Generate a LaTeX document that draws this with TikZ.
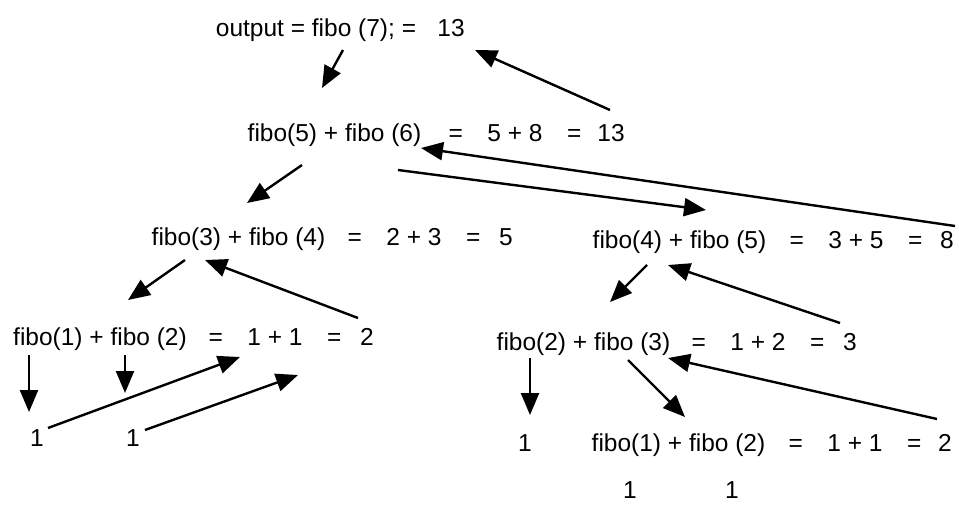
\documentclass[tikz,border=0pt]{standalone}
\usepackage{fontspec}
\setmainfont{Liberation Sans}
\usetikzlibrary{arrows.meta,calc}
\tikzset{
  lbl/.style={inner sep=0pt, anchor=base, font=\fontsize{24.5}{28}\selectfont},
  arr/.style={-{Triangle[length=22pt,width=18pt]}, line width=2.4pt},
}
\newcommand{\gapsum}[1]{=\hspace{1em}#1\hspace{1em}=}

\begin{document}
\begin{tikzpicture}[x=1pt, y=-1pt]
    \path[use as bounding box, fill=white] (0,0) rectangle (959,504);
    % top line
    \node[lbl] (out) at (316,36) {output = fibo (7); =};
    \node[lbl] (top13) at (451,36) {13};
    % fibo(7)
    \node[lbl] (f56) at (334.5,141) {fibo(5) + fibo (6)};
    \node[lbl] (s58) at (515,141) {\gapsum{5 + 8}};
    \node[lbl] (v13) at (611,141) {13};
    % fibo(5) and fibo(6)
    \node[lbl] (f34) at (238.5,245) {fibo(3) + fibo (4)};
    \node[lbl] (s23) at (414,245) {\gapsum{2 + 3}};
    \node[lbl] (v5) at (506,245) {5};
    \node[lbl] (f45) at (679.5,248) {fibo(4) + fibo (5)};
    \node[lbl] (s35) at (856,248) {\gapsum{3 + 5}};
    \node[lbl] (v8) at (947,248) {8};
    % fibo(3) and fibo(4)
    \node[lbl] (f12a) at (100,345) {fibo(1) + fibo (2)};
    \node[lbl] (s11a) at (275,345) {\gapsum{1 + 1}};
    \node[lbl] (v2a) at (367,345) {2};
    \node[lbl] (f23) at (583.5,350) {fibo(2) + fibo (3)};
    \node[lbl] (s12) at (758,350) {\gapsum{1 + 2}};
    \node[lbl] (v3) at (850,350) {3};
    % leaves
    \node[lbl] (onea) at (37,446) {1};
    \node[lbl] (oneb) at (133,446) {1};
    \node[lbl] (one3) at (525,451) {1};
    \node[lbl] (f12b) at (678.5,451) {fibo(1) + fibo (2)};
    \node[lbl] (s11b) at (855,451) {\gapsum{1 + 1}};
    \node[lbl] (v2b) at (945,451) {2};
    \node[lbl] (onec) at (630,498) {1};
    \node[lbl] (oned) at (732,498) {1};
    % calls going down
    \draw[arr] ($(out.base)+(27,14)$) -- ($(f56.base)+(-12.5,-53)$);
    \draw[arr] ($(f56.base)+(-32.5,24)$) -- ($(f34.base)+(8.5,-42)$);
    \draw[arr] ($(f56.base)+(63.5,29)$) -- ($(f45.base)+(26.5,-38)$);
    \draw[arr] ($(f34.base)+(-53.5,15)$) -- ($(f12a.base)+(28,-45)$);
    \draw[arr] ($(f45.base)+(-32.5,17)$) -- ($(f23.base)+(26.5,-48)$);
    \draw[arr] ($(f12a.base)+(-71,10)$) -- ($(onea.base)+(-8,-34)$);
    \draw[arr] ($(f12a.base)+(25,10)$) -- ($(oneb.base)+(-8,-53)$);
    \draw[arr] ($(f23.base)+(-53.5,8)$) -- ($(one3.base)+(5,-36)$);
    \draw[arr] ($(f23.base)+(44.5,10)$) -- ($(f12b.base)+(6.5,-34)$);
    % values going back up
    \draw[arr] ($(v13.base)+(-1,-31)$) -- ($(top13.base)+(24,14)$);
    \draw[arr] ($(v8.base)+(8,-22)$) -- ($(f56.base)+(86.5,7)$);
    \draw[arr] ($(v2a.base)+(-9,-27)$) -- ($(f34.base)+(-33.5,15)$);
    \draw[arr] ($(onea.base)+(11,-18)$) -- ($(s11a.base)+(-35,12)$);
    \draw[arr] ($(oneb.base)+(12,-16)$) -- ($(s11a.base)+(23,30)$);
    \draw[arr] ($(v3.base)+(-10,-27)$) -- ($(f45.base)+(-11.5,17)$);
    \draw[arr] ($(v2b.base)+(-8,-32)$) -- ($(f23.base)+(84.5,8)$);
  \end{tikzpicture}
\end{document}
